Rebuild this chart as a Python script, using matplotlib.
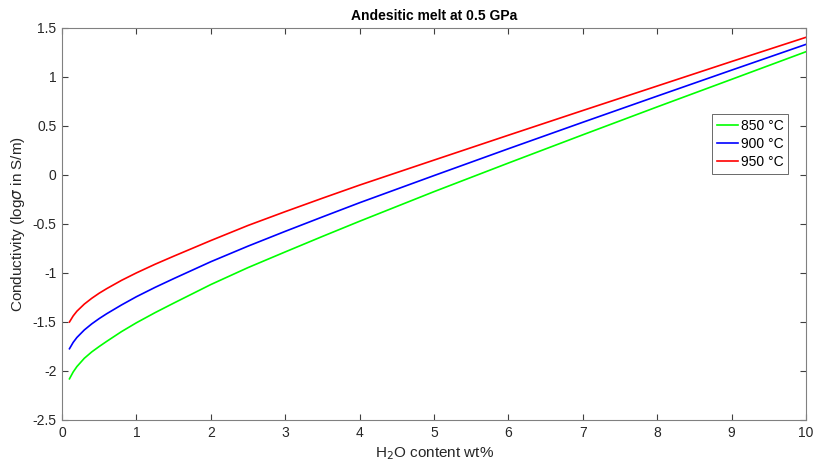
import matplotlib
matplotlib.use("Agg")
import matplotlib.pyplot as plt

plt.rcParams['font.family'] = ['Liberation Sans', 'DejaVu Sans']

# H2O content (wt%) and log conductivity
h2o = [0.1, 0.15, 0.2, 0.3, 0.4, 0.5, 0.6, 0.8, 1.0, 1.25, 1.5, 2.0, 2.5,
       3.0, 3.5, 4.0, 5.0, 6.0, 7.0, 8.0, 9.0, 10.0]
cond_850 = [-2.080, -2.010, -1.955, -1.870, -1.805, -1.750, -1.698, -1.598, -1.508,
            -1.405, -1.308, -1.118, -0.945, -0.785, -0.627, -0.472, -0.170, 0.122,
            0.410, 0.695, 0.976, 1.258]
cond_900 = [-1.773, -1.708, -1.658, -1.581, -1.519, -1.465, -1.416, -1.326, -1.242,
            -1.147, -1.058, -0.885, -0.726, -0.575, -0.428, -0.283, -0.006, 0.268,
            0.538, 0.805, 1.070, 1.333]
cond_950 = [-1.500, -1.438, -1.390, -1.317, -1.258, -1.206, -1.160, -1.075, -0.999,
            -0.911, -0.829, -0.669, -0.515, -0.374, -0.237, -0.103, 0.152, 0.406,
            0.658, 0.908, 1.158, 1.405]
labels = ['850 °C', '900 °C', '950 °C']
colors = ['#00ff00', '#0000ff', '#ff0000']

fig = plt.figure(figsize=(8.14, 4.68), dpi=100)
ax = fig.add_axes([0.0762, 0.1026, 0.914, 0.8376])

for ys, lab, c in zip([cond_850, cond_900, cond_950], labels, colors):
    ax.plot(h2o, ys, color=c, lw=1.2, label=lab)

ax.set_xlim(0, 10)
ax.set_ylim(-2.5, 1.5)
ax.set_xticks(range(0, 11))
ax.set_yticks([-2.5, -2, -1.5, -1, -0.5, 0, 0.5, 1, 1.5])
ax.set_yticklabels(['-2.5', '-2', '-1.5', '-1', '-0.5', '0', '0.5', '1', '1.5'])

grey = '#808080'
for s in ax.spines.values():
    s.set_color(grey)
    s.set_linewidth(0.8)
ax.tick_params(direction='in', length=4, width=0.8, color='#404040',
               top=True, right=True, labelsize=10, labelcolor='#262626', pad=4)

ax.set_xlabel('H$_2$O content wt%', fontsize=11, color='#262626')
ax.set_ylabel(r'Conductivity (log$\sigma$ in S/m)', fontsize=11, color='#262626')
ax.set_title('Andesitic melt at 0.5 GPa', fontsize=10, fontweight='bold', pad=6)

leg = ax.legend(loc='upper left', bbox_to_anchor=(0.874, 0.781), fontsize=10,
                frameon=True, fancybox=False, handlelength=1.5, handletextpad=0.2,
                borderpad=0.35, labelspacing=0.3, borderaxespad=0)
leg.get_frame().set_edgecolor('#262626')
leg.get_frame().set_linewidth(0.6)

fig.savefig('out.png', dpi=100)
